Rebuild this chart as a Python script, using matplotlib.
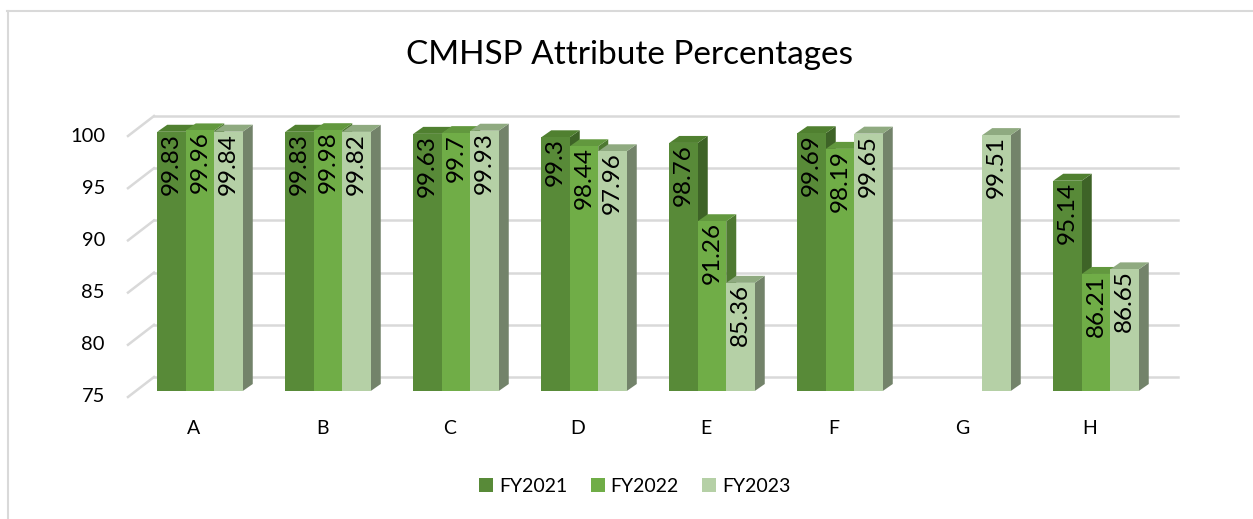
import numpy as np
import matplotlib
matplotlib.use('Agg')
import matplotlib.pyplot as plt
from matplotlib.patches import Polygon, Rectangle, Patch
from matplotlib.lines import Line2D

plt.rcParams['font.family'] = ['Lato', 'DejaVu Sans']

categories = ['A', 'B', 'C', 'D', 'E', 'F', 'G', 'H']
series = ['FY2021', 'FY2022', 'FY2023']
fy2021 = [99.83, 99.83, 99.63, 99.3, 98.76, 99.69, np.nan, 95.14]
fy2022 = [99.96, 99.98, 99.7, 98.44, 91.26, 98.19, np.nan, 86.21]
fy2023 = [99.84, 99.82, 99.93, 97.96, 85.36, 99.65, 99.51, 86.65]
yticks = [75, 80, 85, 90, 95, 100]
title = 'CMHSP Attribute Percentages'

front_c = ['#588A38', '#70AD47', '#B5D0A6']
side_c = ['#3E6327', '#4E7931', '#73836A']
top_c = ['#508030', '#62983E', '#8FAA80']

W, H = 1253, 519
fig = plt.figure(figsize=(W / 100, H / 100), dpi=100, facecolor='w')
ax = fig.add_axes([136 / W, 128 / H, 1024 / W, 261 / H])
ax.set_xlim(-0.5, len(categories) - 0.5)
ax.set_ylim(yticks[0], yticks[-1])
ax.axis('off')

# pixel -> data unit factors (for the fake 3D depth)
px = 1 / 128
py = (yticks[-1] - yticks[0]) / 261
x0, x1 = ax.get_xlim()
base = yticks[0]

# back wall gridlines + left wall diagonals
for v in yticks:
    ax.plot([x0 + 18 * px, x1 + 18 * px], [v + 14 * py, v + 14 * py],
            color='#D9D9D9', lw=1.8, clip_on=False, zorder=1)
    ax.plot([x0 - 8 * px, x0 + 18 * px], [v - 6 * py, v + 14 * py],
            color='#D9D9D9', lw=1.8, clip_on=False, zorder=1)
    ax.text(x0 - 31 * px, v - 6 * py, str(v), ha='right', va='center',
            fontsize=14.5, color='#000000')

bw = 28.5 * px
bdx, bdy = 10 * px, 7 * py
data = [fy2021, fy2022, fy2023]
z = 2
for i, cat in enumerate(categories):
    for k in range(3):
        v = data[k][i]
        if np.isnan(v):
            continue
        xl = i + (k - 1.5) * bw
        xr = xl + bw
        side = Polygon([(xr, base), (xr, v), (xr + bdx, v + bdy), (xr + bdx, base + bdy)],
                       closed=True, fc=side_c[k], ec='none', clip_on=False, zorder=z)
        top = Polygon([(xl, v), (xr, v), (xr + bdx, v + bdy), (xl + bdx, v + bdy)],
                      closed=True, fc=top_c[k], ec='none', clip_on=False, zorder=z)
        front = Rectangle((xl, base), bw, v - base, fc=front_c[k], ec='none',
                          clip_on=False, zorder=z + 0.5)
        ax.add_patch(side)
        ax.add_patch(top)
        ax.add_patch(front)
        ax.text(xl + bw / 2, v - 1 * py, f'{v:g}', rotation=90, ha='center', va='top',
                fontsize=17.5, color='#000000', zorder=50)
        z += 1
    ax.text(i - 6 * px, base - 37 * py, cat, ha='center', va='center', fontsize=14)

fig.text(630 / W, 1 - 55 / H, title, ha='center', va='center', fontsize=24, color='#000000')

handles = [Patch(fc=c, ec='none') for c in front_c]
fig.legend(handles, series, loc='center', bbox_to_anchor=(635 / W, 1 - 486 / H), ncol=3,
           frameon=False, fontsize=14, handlelength=0.72, handleheight=0.72,
           handletextpad=0.3, columnspacing=1.2)

# chart border
fig.add_artist(Line2D([7 / W, 1], [1 - 11 / H, 1 - 11 / H], transform=fig.transFigure,
                      color='#D9D9D9', lw=1.5))
fig.add_artist(Line2D([8 / W, 8 / W], [0, 1 - 11 / H], transform=fig.transFigure,
                      color='#D9D9D9', lw=1.5))

plt.savefig('out.png', dpi=100, facecolor='w')
